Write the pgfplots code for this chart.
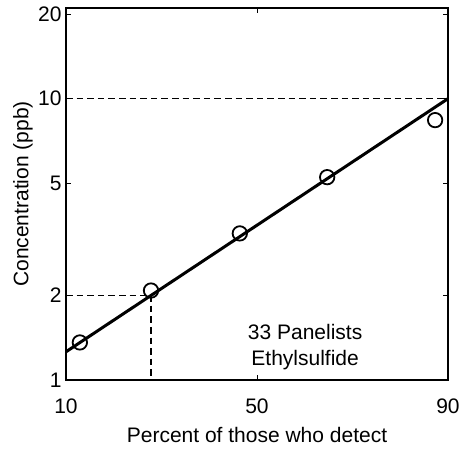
\documentclass[border=0pt]{standalone}
\usepackage{fontspec}
\setmainfont{Liberation Sans}
\usepackage{pgfplots}
\pgfplotsset{compat=1.18}
\begin{document}
\begin{tikzpicture}
\begin{axis}[
  scale only axis, width=191pt, height=186pt,
  xmin=10, xmax=90, ymode=log, ymin=1, ymax=21,
  xtick={10,50,90}, ytick={1,2,5,10,20},
  yticklabels={1,2,5,10,20},
  minor ytick={}, minor xtick={},
  tick align=inside, major tick length=2.5pt,
  tick style={black, line width=0.4pt},
  axis line style={line width=0.75pt},
  font=\fontsize{10.5}{12.5}\selectfont,
  /pgf/number format/assume math mode=true,
  yticklabel style={inner sep=0pt, anchor=east, xshift=-2pt},
  xticklabel style={inner sep=0pt, anchor=north, yshift=-9pt},
  every axis x label/.style={at={([yshift=-27.5pt]rel axis cs:0.5,0)}, anchor=center},
  every axis y label/.style={at={([xshift=-21.5pt]rel axis cs:0,0.5)}, anchor=center, rotate=90},
  xlabel={Percent of those who detect},
  ylabel={Concentration (ppb)},
  clip=false,
]
% dashed reference lines
\addplot[black, line width=0.7pt, dash pattern=on 3.3pt off 2pt] coordinates {(10,10) (90,10)};
\addplot[black, line width=0.7pt, dash pattern=on 3.3pt off 2pt] coordinates {(10,2) (27.8,2) (27.8,1)};
% fitted line
\addplot[black, line width=1.5pt] coordinates {(10,1.26) (90,10)};
% data points
\addplot[only marks, mark=o, mark size=3.6pt, mark options={fill=white, line width=0.9pt}]
  coordinates {(12.9,1.36) (27.8,2.08) (46.4,3.32) (64.7,5.26) (87.3,8.39)};
\node[align=center, font=\fontsize{10.5}{13}\selectfont] at (rel axis cs:0.626,0.089) {33 Panelists\\Ethylsulfide};
\end{axis}
\useasboundingbox ([shift={(-33pt,-33.5pt)}]current axis.south west) rectangle ([shift={(6.5pt,4pt)}]current axis.north east);
\end{tikzpicture}
\end{document}
